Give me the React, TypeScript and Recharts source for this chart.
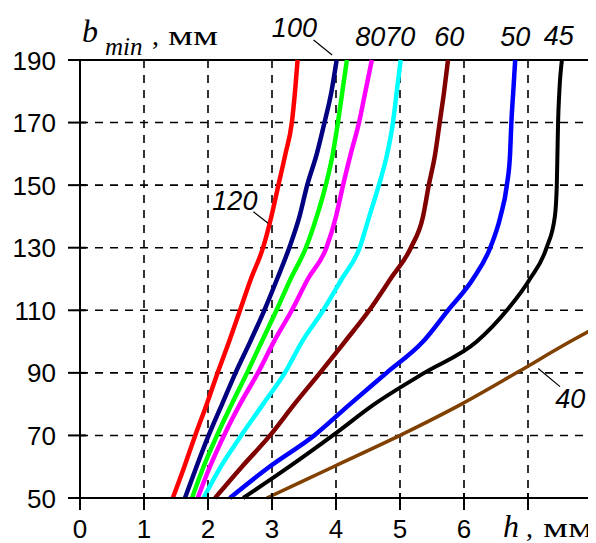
import { LineChart, Line, XAxis, YAxis, CartesianGrid, ReferenceLine, ReferenceDot } from 'recharts';

const B_LEVELS = [50, 60, 70, 80, 90, 100, 110, 120, 130, 140, 150, 160, 170, 180, 190];

// h (mm) for each curve at B_LEVELS
const H_120 = [1.45, 1.63, 1.8, 1.98, 2.15, 2.33, 2.5, 2.67, 2.86, 2.99, 3.1, 3.21, 3.31, 3.36, 3.4];
const H_100 = [1.64, 1.82, 2.01, 2.22, 2.43, 2.66, 2.88, 3.08, 3.27, 3.43, 3.55, 3.7, 3.82, 3.93, 4.01];
const H_90 = [1.75, 1.93, 2.14, 2.37, 2.61, 2.84, 3.07, 3.29, 3.53, 3.7, 3.84, 3.95, 4.03, 4.1, 4.17];
const H_80 = [1.84, 2.03, 2.25, 2.5, 2.78, 3.03, 3.31, 3.56, 3.85, 4.0, 4.11, 4.23, 4.36, 4.46, 4.56];
const H_70 = [1.93, 2.2, 2.52, 2.86, 3.2, 3.47, 3.8, 4.09, 4.37, 4.52, 4.67, 4.8, 4.89, 4.95, 5.01];
const H_60 = [2.11, 2.53, 2.97, 3.35, 3.75, 4.14, 4.52, 4.85, 5.17, 5.36, 5.45, 5.55, 5.62, 5.69, 5.75];
const H_50 = [2.34, 2.96, 3.66, 4.22, 4.79, 5.36, 5.75, 6.14, 6.41, 6.57, 6.67, 6.72, 6.74, 6.77, 6.8];
const H_45 = [2.55, 3.27, 3.95, 4.6, 5.38, 6.2, 6.67, 7.03, 7.29, 7.42, 7.45, 7.46, 7.47, 7.49, 7.53];

// the 40 curve leaves the plot at the right edge
const B_40 = [50, 60, 70, 80, 90, 100, 103.8];
const H_40 = [2.92, 3.96, 5.0, 5.96, 6.82, 7.66, 8.0];

const X_TICKS = [0, 1, 2, 3, 4, 5, 6, 7, 8];
const Y_TICKS = [50, 70, 90, 110, 130, 150, 170, 190];

const toPoints = (bs: number[], hs: number[]) => bs.map((b, i) => ({ h: hs[i], b }));

const SERIES = [
    { name: '120', points: toPoints(B_LEVELS, H_120), color: '#ff0000', width: 4.5 },
    { name: '100', points: toPoints(B_LEVELS, H_100), color: '#000080', width: 4.5 },
    { name: '90', points: toPoints(B_LEVELS, H_90), color: '#00ff00', width: 4.5 },
    { name: '80', points: toPoints(B_LEVELS, H_80), color: '#ff00ff', width: 4.5 },
    { name: '70', points: toPoints(B_LEVELS, H_70), color: '#00ffff', width: 4.5 },
    { name: '60', points: toPoints(B_LEVELS, H_60), color: '#800000', width: 4.5 },
    { name: '50', points: toPoints(B_LEVELS, H_50), color: '#0000ff', width: 4.5 },
    { name: '45', points: toPoints(B_LEVELS, H_45), color: '#000000', width: 4 },
    { name: '40', points: toPoints(B_40, H_40), color: '#804000', width: 3.5 },
];

// curve labels, placed in data units (baseline centre)
const LABELS = [
    { text: '100', h: 3.35, b: 197.3 },
    { text: '8070', h: 4.77, b: 194.5 },
    { text: '60', h: 5.77, b: 194.5 },
    { text: '50', h: 6.8, b: 194.5 },
    { text: '45', h: 7.48, b: 194.8 },
    { text: '120', h: 2.42, b: 142.0 },
    { text: '40', h: 7.66, b: 78.8 },
];

const LEADERS = [
    [{ x: 3.65, y: 196.4 }, { x: 3.94, y: 191.6 }],
    [{ x: 2.71, y: 141.5 }, { x: 2.94, y: 137.8 }],
    [{ x: 7.16, y: 91.4 }, { x: 7.5, y: 85.6 }],
];

const TICK_FONT = { fontFamily: 'Liberation Sans, sans-serif', fontSize: 26, fill: '#000' };
const LABEL_FONT = { fontFamily: 'Liberation Sans, sans-serif', fontSize: 27, fontStyle: 'italic', fill: '#000' };
const TITLE_FONT = 'Liberation Serif, serif';

const XTick = ({ x, y, payload }: any) => (
    <g>
        <line x1={x} x2={x} y1={y - 5} y2={y + 12} stroke="#000" strokeWidth={2} />
        {payload.value <= 6 && (
            <text x={x} y={y + 40} textAnchor="middle" {...TICK_FONT}>
                {payload.value}
            </text>
        )}
    </g>
);

const YTick = ({ x, y, payload }: any) => (
    <g>
        <line x1={x - 12} x2={x + 6} y1={y} y2={y} stroke="#000" strokeWidth={2} />
        <text x={x - 24} y={y + 9.5} textAnchor="end" {...TICK_FONT}>
            {payload.value}
        </text>
    </g>
);

const W = 588;
const H = 535;

export default function App() {
    return (
        <div style={{ position: 'relative', width: W, height: H, background: '#fff' }}>
            <LineChart width={W} height={H} margin={{ top: 52, right: 4, bottom: 0, left: 0 }}>
                <CartesianGrid stroke="#000" strokeWidth={1.6} strokeDasharray="8 7" />
                <XAxis
                    dataKey="h"
                    type="number"
                    domain={[0, 8]}
                    ticks={X_TICKS}
                    interval={0}
                    height={45}
                    tickSize={0}
                    tickMargin={0}
                    tickLine={false}
                    axisLine={{ stroke: '#000', strokeWidth: 2 }}
                    tick={<XTick />}
                />
                <YAxis
                    type="number"
                    domain={[50, 190]}
                    ticks={Y_TICKS}
                    interval={0}
                    width={72}
                    tickSize={0}
                    tickMargin={0}
                    tickLine={false}
                    axisLine={{ stroke: '#000', strokeWidth: 2 }}
                    tick={<YTick />}
                />
                <ReferenceLine y={190} stroke="#000" strokeWidth={2} />
                <ReferenceLine x={8} stroke="#000" strokeWidth={2} />
                {SERIES.map((s) => (
                    <Line
                        key={s.name}
                        data={s.points}
                        dataKey="b"
                        type="monotone"
                        stroke={s.color}
                        strokeWidth={s.width}
                        dot={false}
                        activeDot={false}
                        isAnimationActive={false}
                    />
                ))}
                {LEADERS.map((seg, i) => (
                    <ReferenceLine key={`lead-${i}`} segment={seg} stroke="#000" strokeWidth={1.2} ifOverflow="visible" />
                ))}
                {LABELS.map((l) => (
                    <ReferenceDot
                        key={l.text}
                        x={l.h}
                        y={l.b}
                        r={0}
                        ifOverflow="visible"
                        shape={(p: any) => (
                            <text x={p.cx} y={p.cy} textAnchor="middle" {...LABEL_FONT}>
                                {l.text}
                            </text>
                        )}
                    />
                ))}
            </LineChart>
            <svg width={W} height={H} style={{ position: 'absolute', left: 0, top: 0, pointerEvents: 'none' }}>
                <text x={74} y={34} fontFamily={TITLE_FONT} fontStyle="italic" fontSize={32}>b</text>
                <text x={97} y={47} fontFamily={TITLE_FONT} fontStyle="italic" fontSize={25}>min</text>
                <text x={144} y={37} fontFamily={TITLE_FONT} fontSize={28}>,</text>
                <text x={160} y={37} fontFamily={TITLE_FONT} fontSize={28} textLength={50} lengthAdjust="spacingAndGlyphs">мм</text>
                <text x={495} y={529} fontFamily={TITLE_FONT} fontStyle="italic" fontSize={32}>h</text>
                <text x={518} y={529} fontFamily={TITLE_FONT} fontSize={28}>,</text>
                <text x={535} y={529} fontFamily={TITLE_FONT} fontSize={28} textLength={50} lengthAdjust="spacingAndGlyphs">мм</text>
            </svg>
        </div>
    );
}
